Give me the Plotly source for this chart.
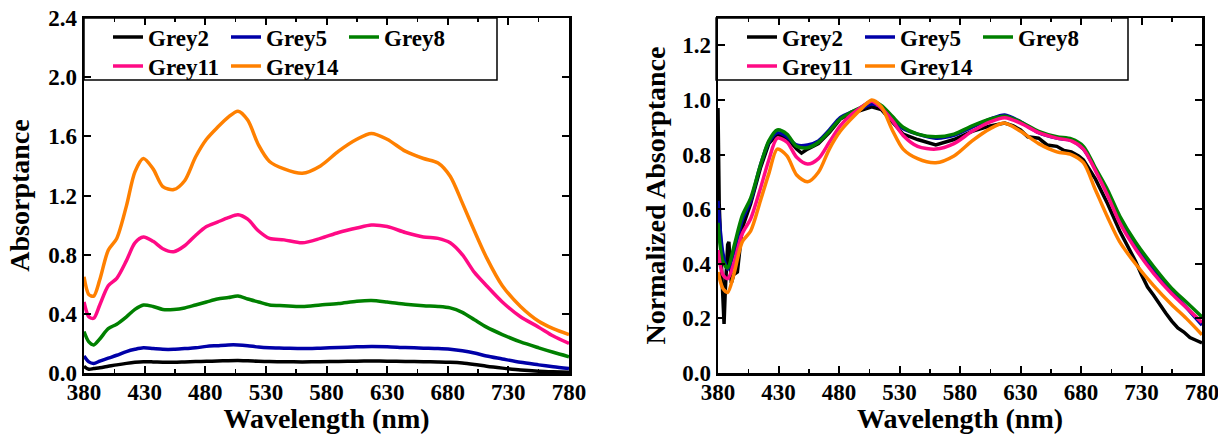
import plotly.graph_objects as go

# ---------------- data ----------------
wavelength = [380, 384, 388, 393, 400, 407, 415, 422, 429, 437, 445, 454, 463, 472, 481,
              490, 499, 507, 515, 524, 533, 545, 560, 575, 590, 605, 617, 630, 645, 660,
              672, 682, 692, 702, 712, 725, 740, 755, 767, 780]

# Left panel: absorptance
grey2_abs = [0.045, 0.025, 0.03, 0.035, 0.045, 0.055, 0.065, 0.072, 0.076, 0.075, 0.073, 0.073,
             0.075, 0.077, 0.079, 0.081, 0.083, 0.084, 0.082, 0.079, 0.077, 0.076, 0.075, 0.076,
             0.078, 0.08, 0.081, 0.08, 0.078, 0.076, 0.075, 0.073, 0.068, 0.058, 0.046, 0.033,
             0.02, 0.012, 0.008, 0.005]
grey5_abs = [0.115, 0.075, 0.065, 0.08, 0.10, 0.12, 0.145, 0.16, 0.17, 0.165, 0.16, 0.16,
             0.165, 0.17, 0.18, 0.185, 0.19, 0.19, 0.185, 0.175, 0.17, 0.168, 0.165, 0.168,
             0.172, 0.177, 0.18, 0.178, 0.172, 0.168, 0.165, 0.16, 0.15, 0.135, 0.115, 0.095,
             0.072, 0.055, 0.042, 0.03]
grey8_abs = [0.28, 0.21, 0.19, 0.23, 0.30, 0.33, 0.38, 0.43, 0.46, 0.45, 0.43, 0.43,
             0.44, 0.46, 0.48, 0.50, 0.51, 0.52, 0.50, 0.48, 0.46, 0.455, 0.45, 0.46,
             0.47, 0.485, 0.49, 0.48, 0.465, 0.455, 0.45, 0.44, 0.41, 0.36, 0.31, 0.26,
             0.21, 0.17, 0.14, 0.11]
grey11_abs = [0.48, 0.38, 0.37, 0.46, 0.59, 0.64, 0.76, 0.88, 0.92, 0.89, 0.84, 0.82,
              0.86, 0.93, 0.99, 1.02, 1.05, 1.07, 1.04, 0.96, 0.91, 0.90, 0.88, 0.91,
              0.95, 0.98, 1.00, 0.99, 0.95, 0.92, 0.91, 0.88, 0.80, 0.68, 0.59, 0.48,
              0.38, 0.31, 0.25, 0.20]
grey14_abs = [0.65, 0.53, 0.52, 0.63, 0.83, 0.91, 1.13, 1.36, 1.45, 1.38, 1.26, 1.24,
              1.30, 1.46, 1.58, 1.66, 1.73, 1.77, 1.71, 1.54, 1.43, 1.38, 1.35, 1.40,
              1.50, 1.58, 1.62, 1.58, 1.50, 1.45, 1.42, 1.33, 1.15, 0.96, 0.78, 0.59,
              0.45, 0.35, 0.30, 0.26]

# Right panel: normalized absorptance
grey2_norm_wavelength = [380, 381, 383, 385, 386, 388, 389, 391, 393, 396, 400, 407, 415, 422,
                         429, 437, 445, 449, 454, 463, 472, 481, 490, 499, 507, 515, 524, 533,
                         545, 560, 575, 590, 605, 617, 624, 630, 636, 645, 652, 660, 666, 672,
                         678, 682, 692, 702, 712, 718, 725, 730, 735, 740, 745, 750, 755, 760,
                         765, 770, 775, 780]
grey2_norm = [0.97, 0.62, 0.38, 0.18, 0.30, 0.47, 0.48, 0.33, 0.36, 0.37, 0.53, 0.62, 0.75, 0.84,
              0.875, 0.86, 0.82, 0.805, 0.82, 0.84, 0.88, 0.93, 0.95, 0.965, 0.975, 0.965, 0.92,
              0.875, 0.855, 0.835, 0.855, 0.885, 0.905, 0.915, 0.905, 0.89, 0.865, 0.86, 0.835,
              0.83, 0.815, 0.81, 0.795, 0.78, 0.71, 0.62, 0.52, 0.47, 0.41, 0.36, 0.315, 0.285,
              0.25, 0.22, 0.19, 0.165, 0.15, 0.13, 0.12, 0.11]
grey5_norm = [0.63, 0.44, 0.38, 0.44, 0.56, 0.63, 0.76, 0.845, 0.88, 0.865, 0.835, 0.835,
              0.85, 0.89, 0.935, 0.955, 0.97, 0.985, 0.975, 0.935, 0.895, 0.875, 0.86, 0.87,
              0.90, 0.93, 0.945, 0.92, 0.88, 0.86, 0.852, 0.82, 0.745, 0.66, 0.56, 0.465,
              0.375, 0.30, 0.24, 0.175]
grey8_norm = [0.55, 0.41, 0.385, 0.46, 0.575, 0.64, 0.76, 0.85, 0.89, 0.875, 0.83, 0.825,
              0.845, 0.885, 0.93, 0.955, 0.975, 0.995, 0.98, 0.94, 0.90, 0.875, 0.865, 0.875,
              0.905, 0.93, 0.94, 0.92, 0.885, 0.865, 0.857, 0.83, 0.75, 0.67, 0.575, 0.48,
              0.39, 0.31, 0.26, 0.205]
grey11_norm = [0.45, 0.36, 0.345, 0.40, 0.51, 0.565, 0.675, 0.78, 0.86, 0.845, 0.79, 0.765,
               0.785, 0.845, 0.905, 0.945, 0.975, 0.995, 0.97, 0.925, 0.87, 0.83, 0.82, 0.84,
               0.885, 0.92, 0.935, 0.915, 0.88, 0.86, 0.85, 0.82, 0.74, 0.65, 0.55, 0.455,
               0.365, 0.29, 0.24, 0.185]
grey14_norm = [0.37, 0.31, 0.295, 0.36, 0.48, 0.52, 0.63, 0.73, 0.82, 0.795, 0.725, 0.70,
               0.735, 0.82, 0.885, 0.93, 0.97, 1.00, 0.975, 0.89, 0.82, 0.785, 0.77, 0.795,
               0.85, 0.895, 0.915, 0.885, 0.84, 0.81, 0.80, 0.77, 0.67, 0.57, 0.48, 0.40,
               0.32, 0.25, 0.20, 0.14]

series_names = ["Grey2", "Grey5", "Grey8", "Grey11", "Grey14"]
series_colors = ["#000000", "#0000A8", "#008000", "#FF0A85", "#FF8000"]

x_ticks = [380, 430, 480, 530, 580, 630, 680, 730, 780]

# ---------------- figure ----------------
FONT = "Liberation Serif, Times New Roman, serif"
fig = go.Figure()

left_y = [grey2_abs, grey5_abs, grey8_abs, grey11_abs, grey14_abs]
right_y = [grey2_norm, grey5_norm, grey8_norm, grey11_norm, grey14_norm]
right_x = [grey2_norm_wavelength, wavelength, wavelength, wavelength, wavelength]

for i, (name, color) in enumerate(zip(series_names, series_colors)):
    fig.add_trace(go.Scatter(
        x=wavelength, y=left_y[i], name=name, mode="lines",
        line=dict(color=color, width=3.5, shape="spline", smoothing=0.8),
        xaxis="x", yaxis="y",
        legend="legend" if i < 3 else "legend2",
    ))
for i, (name, color) in enumerate(zip(series_names, series_colors)):
    fig.add_trace(go.Scatter(
        x=right_x[i], y=right_y[i], name=name, mode="lines",
        line=dict(color=color, width=3.5, shape="spline" if i > 0 else "linear", smoothing=0.8),
        xaxis="x2", yaxis="y2",
        legend="legend3" if i < 3 else "legend4",
    ))

tickfont = dict(family=FONT, size=23, color="black", weight="bold")
titlefont = dict(family=FONT, size=28, color="black", weight="bold")

def xaxis(domain, anchor):
    return dict(
        domain=domain, anchor=anchor, range=[380, 780],
        tickvals=x_ticks, ticks="inside", ticklen=7, tickwidth=2, tickcolor="black",
        minor=dict(ticks="inside", ticklen=4, tickwidth=1.5, dtick=25, tick0=380, tickcolor="black"),
        showline=True, linewidth=2.5, linecolor="black", mirror="ticks",
        showgrid=False, zeroline=False, tickfont=tickfont, ticklabelstandoff=-3,
        ticklabeloverflow="allow",
        title=dict(text="Wavelength (nm)", font=titlefont, standoff=0),
        automargin=False,
    )

def yaxis(domain, anchor, rng, dtick, title, standoff):
    return dict(
        domain=domain, anchor=anchor, range=rng, dtick=dtick, tick0=0, tickformat=".1f",
        ticks="inside", ticklen=7, tickwidth=2, tickcolor="black",
        showline=True, linewidth=2.5, linecolor="black", mirror="ticks",
        showgrid=False, zeroline=False, tickfont=tickfont, ticklabeloverflow="allow",
        title=dict(text=title, font=titlefont, standoff=standoff),
        automargin=False,
    )

W, H = 1218, 434
PLOT_TOP, PLOT_BOTTOM = 18, 373
left_dom = [84 / W, 569 / W]
right_dom = [718 / W, 1202 / W]

legend_common = dict(
    orientation="h", entrywidth=73, entrywidthmode="pixels", itemwidth=30,
    font=dict(family=FONT, size=23, color="black", weight="bold"),
    bgcolor="rgba(0,0,0,0)", borderwidth=0, xanchor="left", yanchor="middle",
    traceorder="normal",
)
row1_y = (373 - 37) / 355
row2_y = (373 - 66) / 355

fig.update_layout(
    width=W, height=H,
    margin=dict(l=0, r=0, t=PLOT_TOP, b=H - PLOT_BOTTOM),
    paper_bgcolor="white", plot_bgcolor="white",
    xaxis=xaxis(left_dom, "y"),
    yaxis=yaxis([0, 1], "x", [0, 2.4], 0.4, "Absorptance", 11),
    xaxis2=xaxis(right_dom, "y2"),
    yaxis2=yaxis([0, 1], "x2", [0, 1.3], 0.2, "Normalized Absorptance", 9),
    legend=dict(legend_common, x=108 / W, y=row1_y),
    legend2=dict(legend_common, x=108 / W, y=row2_y),
    legend3=dict(legend_common, x=742 / W, y=row1_y),
    legend4=dict(legend_common, x=742 / W, y=row2_y),
    showlegend=True,
    shapes=[
        dict(type="rect", xref="x domain", yref="y domain", x0=0, x1=(497 - 84) / 485,
             y0=(373 - 80) / 355, y1=1, line=dict(color="black", width=1.5), layer="above"),
        dict(type="rect", xref="x2 domain", yref="y2 domain", x0=-0.004, x1=(1128 - 718) / 484,
             y0=(373 - 80) / 355, y1=1, line=dict(color="black", width=1.5), layer="above"),
    ],
)

# remove the default page margin so the figure fills the window exactly
fig.write_html(
    "out.html",
    config={"displayModeBar": False, "staticPlot": True},
    post_script="document.body.style.margin='0';document.body.style.overflow='hidden';",
)
